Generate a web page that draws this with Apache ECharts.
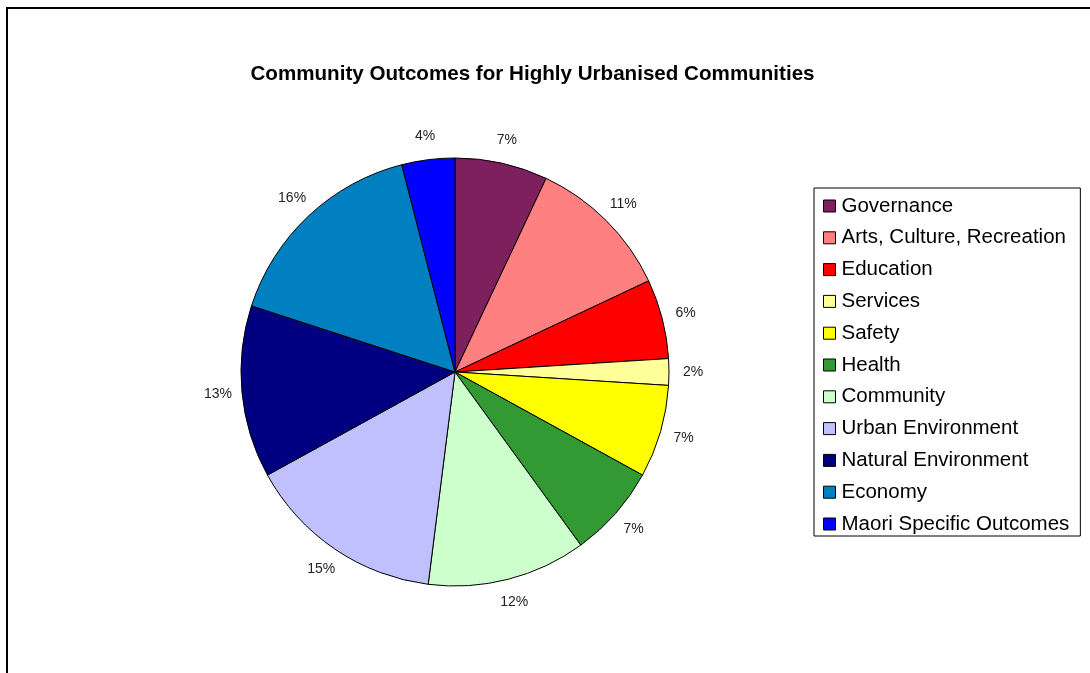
<!DOCTYPE html>
<html>
<head>
<meta charset="utf-8">
<title>Community Outcomes for Highly Urbanised Communities</title>
<script src="https://cdn.jsdelivr.net/npm/echarts@6/dist/echarts.min.js"></script>
<style>
  html, body { margin: 0; padding: 0; background: #fff; }
  #chart { width: 1090px; height: 673px; }
</style>
</head>
<body>
<div id="chart"></div>
<script>
// Outcome categories, in drawing order (clockwise from 12 o'clock)
const categories = [
  'Governance',
  'Arts, Culture, Recreation',
  'Education',
  'Services',
  'Safety',
  'Health',
  'Community',
  'Urban Environment',
  'Natural Environment',
  'Economy',
  'Maori Specific Outcomes'
];

// Share of outcomes per category (percent)
const shares = [7, 11, 6, 2, 7, 7, 12, 15, 13, 16, 4];

// Slice fill colours per category
const sliceColors = [
  '#7E1F5E', '#FF8080', '#FF0000', '#FFFF99', '#FFFF00', '#339933',
  '#CCFFCC', '#C0C0FF', '#000080', '#0080C0', '#0000FF'
];

const chartTitle = 'Community Outcomes for Highly Urbanised Communities';

const PIE_CENTER = [455, 372];
const PIE_RADIUS = 214;

const pieData = categories.map((name, i) => ({
  name: name,
  value: shares[i],
  itemStyle: { color: sliceColors[i] }
}));

// Same values again, for an invisible ring that carries the percentage
// labels just outside the pie, centred on each slice's mid-angle.
const labelRingData = categories.map((name, i) => ({ name: name, value: shares[i] }));

const chart = echarts.init(document.getElementById('chart'), null, { renderer: 'canvas' });

chart.setOption({
  animation: false,
  backgroundColor: '#ffffff',
  title: {
    text: chartTitle,
    left: 527.5,
    top: 59,
    textAlign: 'center',
    textStyle: {
      fontFamily: 'Liberation Sans, Arial, sans-serif',
      fontWeight: 'bold',
      fontSize: 20.6,
      color: '#000'
    }
  },
  legend: {
    orient: 'vertical',
    left: 814,
    top: 188,
    padding: [7, 11, 1, 9],
    backgroundColor: '#fff',
    borderColor: '#000',
    borderWidth: 1,
    itemWidth: 12,
    itemHeight: 12,
    itemGap: 9.8,
    icon: 'rect',
    selectedMode: false,
    itemStyle: { borderColor: '#000', borderWidth: 1 },
    textStyle: {
      fontFamily: 'Liberation Sans, Arial, sans-serif',
      fontSize: 20.5,
      lineHeight: 22,
      color: '#000',
      padding: [0, 0, 0, 1]
    },
    data: categories
  },
  graphic: [{
    type: 'rect',
    silent: true,
    shape: { x: 7, y: 8, width: 1200, height: 800 },
    style: { fill: 'none', stroke: '#000', lineWidth: 2 }
  }],
  series: [{
    type: 'pie',
    name: 'Outcomes',
    center: PIE_CENTER,
    radius: PIE_RADIUS,
    startAngle: 90,
    clockwise: true,
    itemStyle: { borderColor: '#000', borderWidth: 1 },
    label: { show: false },
    labelLine: { show: false },
    emphasis: { disabled: true },
    data: pieData
  }, {
    type: 'pie',
    name: 'Percent labels',
    center: PIE_CENTER,
    radius: [PIE_RADIUS, 256],
    startAngle: 90,
    clockwise: true,
    silent: true,
    z: 1,
    itemStyle: { color: 'rgba(0,0,0,0)', borderWidth: 0 },
    label: {
      show: true,
      position: 'inside',
      rotate: 0,
      formatter: '{d}%',
      fontFamily: 'Liberation Sans, Arial, sans-serif',
      fontSize: 14,
      color: '#222'
    },
    labelLine: { show: false },
    emphasis: { disabled: true },
    data: labelRingData
  }]
});
</script>
</body>
</html>
